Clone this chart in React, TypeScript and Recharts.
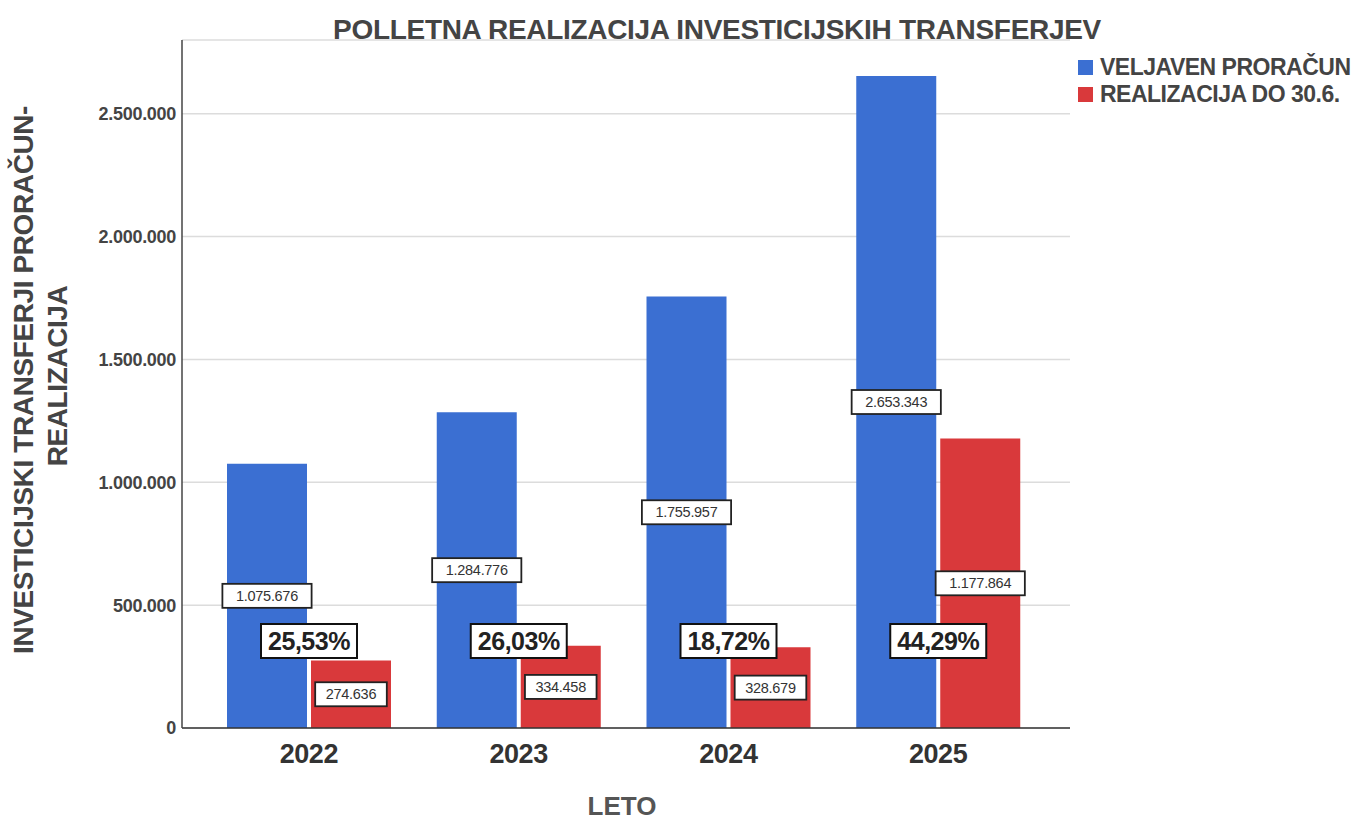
import React from 'react';
import { BarChart, Bar, XAxis, YAxis, CartesianGrid, LabelList, Label } from 'recharts';

const years = ['2022', '2023', '2024', '2025'];
const budget = [1075676, 1284776, 1755957, 2653343];
const realized = [274636, 334458, 328679, 1177864];
const shareLabels = ['25,53%', '26,03%', '18,72%', '44,29%'];
const yTicks = [0, 500000, 1000000, 1500000, 2000000, 2500000];

const seriesNames = ['VELJAVEN PRORAČUN', 'REALIZACIJA DO 30.6.'];
const BLUE = '#3b6fd2';
const RED = '#d9393b';
const FONT = 'Liberation Sans, Arial, sans-serif';

const data = years.map((y, i) => ({ year: y, budget: budget[i], realized: realized[i], share: shareLabels[i] }));

const fmt = (v: number) => {
  const s = Math.round(v).toString();
  return s.replace(/\B(?=(\d{3})+(?!\d))/g, '.');
};

const ValueBox = (props: any) => {
  const { x, y, width, height, value } = props;
  const cx = x + width / 2;
  const cy = y + height / 2;
  const txt = fmt(value);
  const w = txt.length * 8.8 + 10;
  const h = 24;
  return (
    <g>
      <rect x={cx - w / 2} y={cy - h / 2} width={w} height={h} fill="#ffffff" stroke="#222" strokeWidth={1.8} />
      <text x={cx} y={cy + 5} textAnchor="middle" fontSize={14.5} fontFamily={FONT} fill="#333" letterSpacing={-0.3}>{txt}</text>
    </g>
  );
};

const ShareBox = (props: any) => {
  const { x, y, height, index } = props;
  const cx = x - 2;
  const base = y + height;
  const cy = base - 87;
  const txt = shareLabels[index];
  const w = 96;
  const h = 34;
  return (
    <g>
      <rect x={cx - w / 2} y={cy - h / 2} width={w} height={h} fill="#ffffff" stroke="#111" strokeWidth={2} />
      <text x={cx} y={cy + 9} textAnchor="middle" fontSize={25} fontWeight="bold" fontFamily={FONT} fill="#222" letterSpacing={-0.5}>{txt}</text>
    </g>
  );
};

const LegendBlock = () => (
  <div style={{ position: 'absolute', left: 1078, top: 54, width: 280, fontFamily: FONT, fontWeight: 'bold', fontSize: 23, color: '#444', letterSpacing: -0.5, lineHeight: '27px' }}>
    {seriesNames.map((n, i) => (
      <div key={n} style={{ display: 'flex', alignItems: 'center', whiteSpace: 'nowrap' }}>
        <span style={{ display: 'inline-block', width: 15, height: 15, background: i === 0 ? BLUE : RED, marginRight: 7 }} />
        {n}
      </div>
    ))}
  </div>
);

export default function App() {
  return (
    <div style={{ position: 'absolute', left: 0, top: 0, width: 1353, height: 821, background: '#fff', overflow: 'hidden' }}>
      <BarChart
        width={1353}
        height={821}
        data={data}
        margin={{ top: 40, right: 283, bottom: 63, left: 102 }}
        barSize={80}
        barGap={4}
        style={{ position: 'absolute', left: 0, top: 0 }}
      >
        <CartesianGrid vertical={false} stroke="#dcdcdc" strokeWidth={1.5} />
        <XAxis
          dataKey="year"
          height={30}
          padding={{ left: 22, right: 27 }}
          axisLine={{ stroke: '#333', strokeWidth: 1.5 }}
          tickLine={false}
          tick={{ fontSize: 27, fontWeight: 'bold', fill: '#333', fontFamily: FONT, letterSpacing: -0.5 }}
          tickMargin={10}
        >
          <Label
            content={() => (
              <text x={622} y={815} textAnchor="middle" fontSize={26} fontWeight="bold" fill="#555" fontFamily={FONT}>LETO</text>
            )}
          />
        </XAxis>
        <YAxis
          width={80}
          domain={[0, 2800000]}
          ticks={yTicks}
          tickFormatter={fmt}
          axisLine={{ stroke: '#444', strokeWidth: 1.5 }}
          tickLine={false}
          tickMargin={0}
          tick={{ fontSize: 18, fontWeight: 'bold', fill: '#444', fontFamily: FONT, letterSpacing: -0.3 }}
        >
          <Label
            content={() => (
              <g fontFamily={FONT} fontWeight="bold" fontSize={28} fill="#444">
                <text x={33} y={380} textAnchor="middle" transform="rotate(-90 33 380)" letterSpacing={-0.4}>INVESTICIJSKI TRANSFERJI PRORAČUN-</text>
                <text x={67} y={376} textAnchor="middle" transform="rotate(-90 67 376)" letterSpacing={-0.4}>REALIZACIJA</text>
              </g>
            )}
          />
        </YAxis>
        <Bar dataKey="budget" name={seriesNames[0]} fill={BLUE} isAnimationActive={false}>
          <LabelList dataKey="budget" content={<ValueBox />} />
        </Bar>
        <Bar dataKey="realized" name={seriesNames[1]} fill={RED} isAnimationActive={false}>
          <LabelList dataKey="realized" content={<ValueBox />} />
          <LabelList dataKey="share" content={<ShareBox />} />
        </Bar>
      </BarChart>
      <div style={{ position: 'absolute', left: 0, top: 14, width: 1434, textAlign: 'center', fontFamily: FONT, fontWeight: 'bold', fontSize: 28, color: '#444', letterSpacing: -0.3 }}>
        POLLETNA REALIZACIJA INVESTICIJSKIH TRANSFERJEV
      </div>
      <LegendBlock />
    </div>
  );
}
